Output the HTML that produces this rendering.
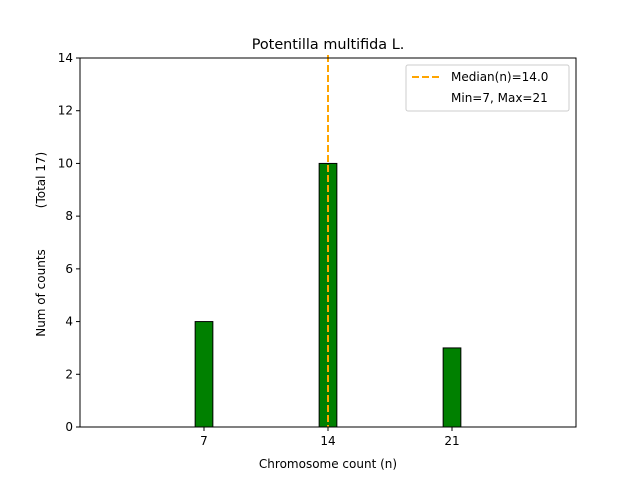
<!DOCTYPE html>
<html><head><meta charset="utf-8"><style>
body{margin:0;background:#fff;font-family:"Liberation Sans","DejaVu Sans",sans-serif;}
svg text{font-family:"DejaVu Sans","Liberation Sans",sans-serif;}
</style></head><body>
<svg id="chart" width="640" height="480" xmlns="http://www.w3.org/2000/svg">
<rect width="640" height="480" fill="#fff"/>
<text x="328" y="49" font-size="14.4" text-anchor="middle">Potentilla multifida L.</text>
<g id="bars"></g>
<g id="axes"></g>
<text x="328" y="468" font-size="12" text-anchor="middle">Chromosome count (n)</text>
<text transform="translate(45,293) rotate(-90)" font-size="12" text-anchor="middle">Num of counts</text>
<text transform="translate(45,180) rotate(-90)" font-size="12" text-anchor="middle">(Total 17)</text>
<g>
<rect x="406" y="65" width="163" height="46" fill="#fff" stroke="#ccc" rx="2"/>
<line x1="412" y1="77" x2="440" y2="77" stroke="orange" stroke-width="2" stroke-dasharray="7,3"/>
<text x="451" y="81" font-size="12">Median(n)=14.0</text>
<text x="451" y="102" font-size="12">Min=7, Max=21</text>
</g>
</svg>
<script>
const categories=[7,14,21];
const counts=[4,10,3];
const median=14.0;
const yTicks=[0,2,4,6,8,10,12,14];
const xTicks=[7,14,21];
const X0=80,X1=576,Y0=427,Y1=58,xmin=0,xmax=28,ymin=0,ymax=14;
const xs=v=>X0+(v-xmin)/(xmax-xmin)*(X1-X0);
const ys=v=>Y0-(v-ymin)/(ymax-ymin)*(Y0-Y1);
const NS="http://www.w3.org/2000/svg";
function mk(t,a,p){const e=document.createElementNS(NS,t);for(const k in a)e.setAttribute(k,a[k]);p.appendChild(e);return e;}
const bars=document.getElementById('bars'),axes=document.getElementById('axes');
const bl=mk('line',{x1:xs(0.5),x2:xs(24.5),y1:Y0,y2:Y0,stroke:'#000'},bars);


categories.forEach((c,i)=>{
 const r=mk('rect',{x:xs(c-0.5),y:ys(counts[i]),width:xs(c+0.5)-xs(c-0.5),height:ys(0)-ys(counts[i]),fill:'green',stroke:'#000'},bars);
 
 
});
const ml=mk('line',{x1:xs(median),x2:xs(median),y1:Y1-3,y2:Y0,stroke:'orange','stroke-width':2,'stroke-dasharray':'7,3'},bars);


const fr=mk('rect',{x:X0,y:Y1,width:X1-X0,height:Y0-Y1,fill:'none',stroke:'#000'},axes);


yTicks.forEach(v=>{
 mk('line',{x1:X0-4,x2:X0,y1:ys(v),y2:ys(v),stroke:'#000'},axes);
 const t=mk('text',{x:X0-7,y:ys(v)+4,'font-size':12,'text-anchor':'end'},axes);t.textContent=v;
 
 
});
xTicks.forEach(v=>{
 mk('line',{x1:xs(v),x2:xs(v),y1:Y0,y2:Y0+4,stroke:'#000'},axes);
 const t=mk('text',{x:xs(v),y:Y0+18,'font-size':12,'text-anchor':'middle'},axes);t.textContent=v;
 
 
});
</script>
</body></html>
